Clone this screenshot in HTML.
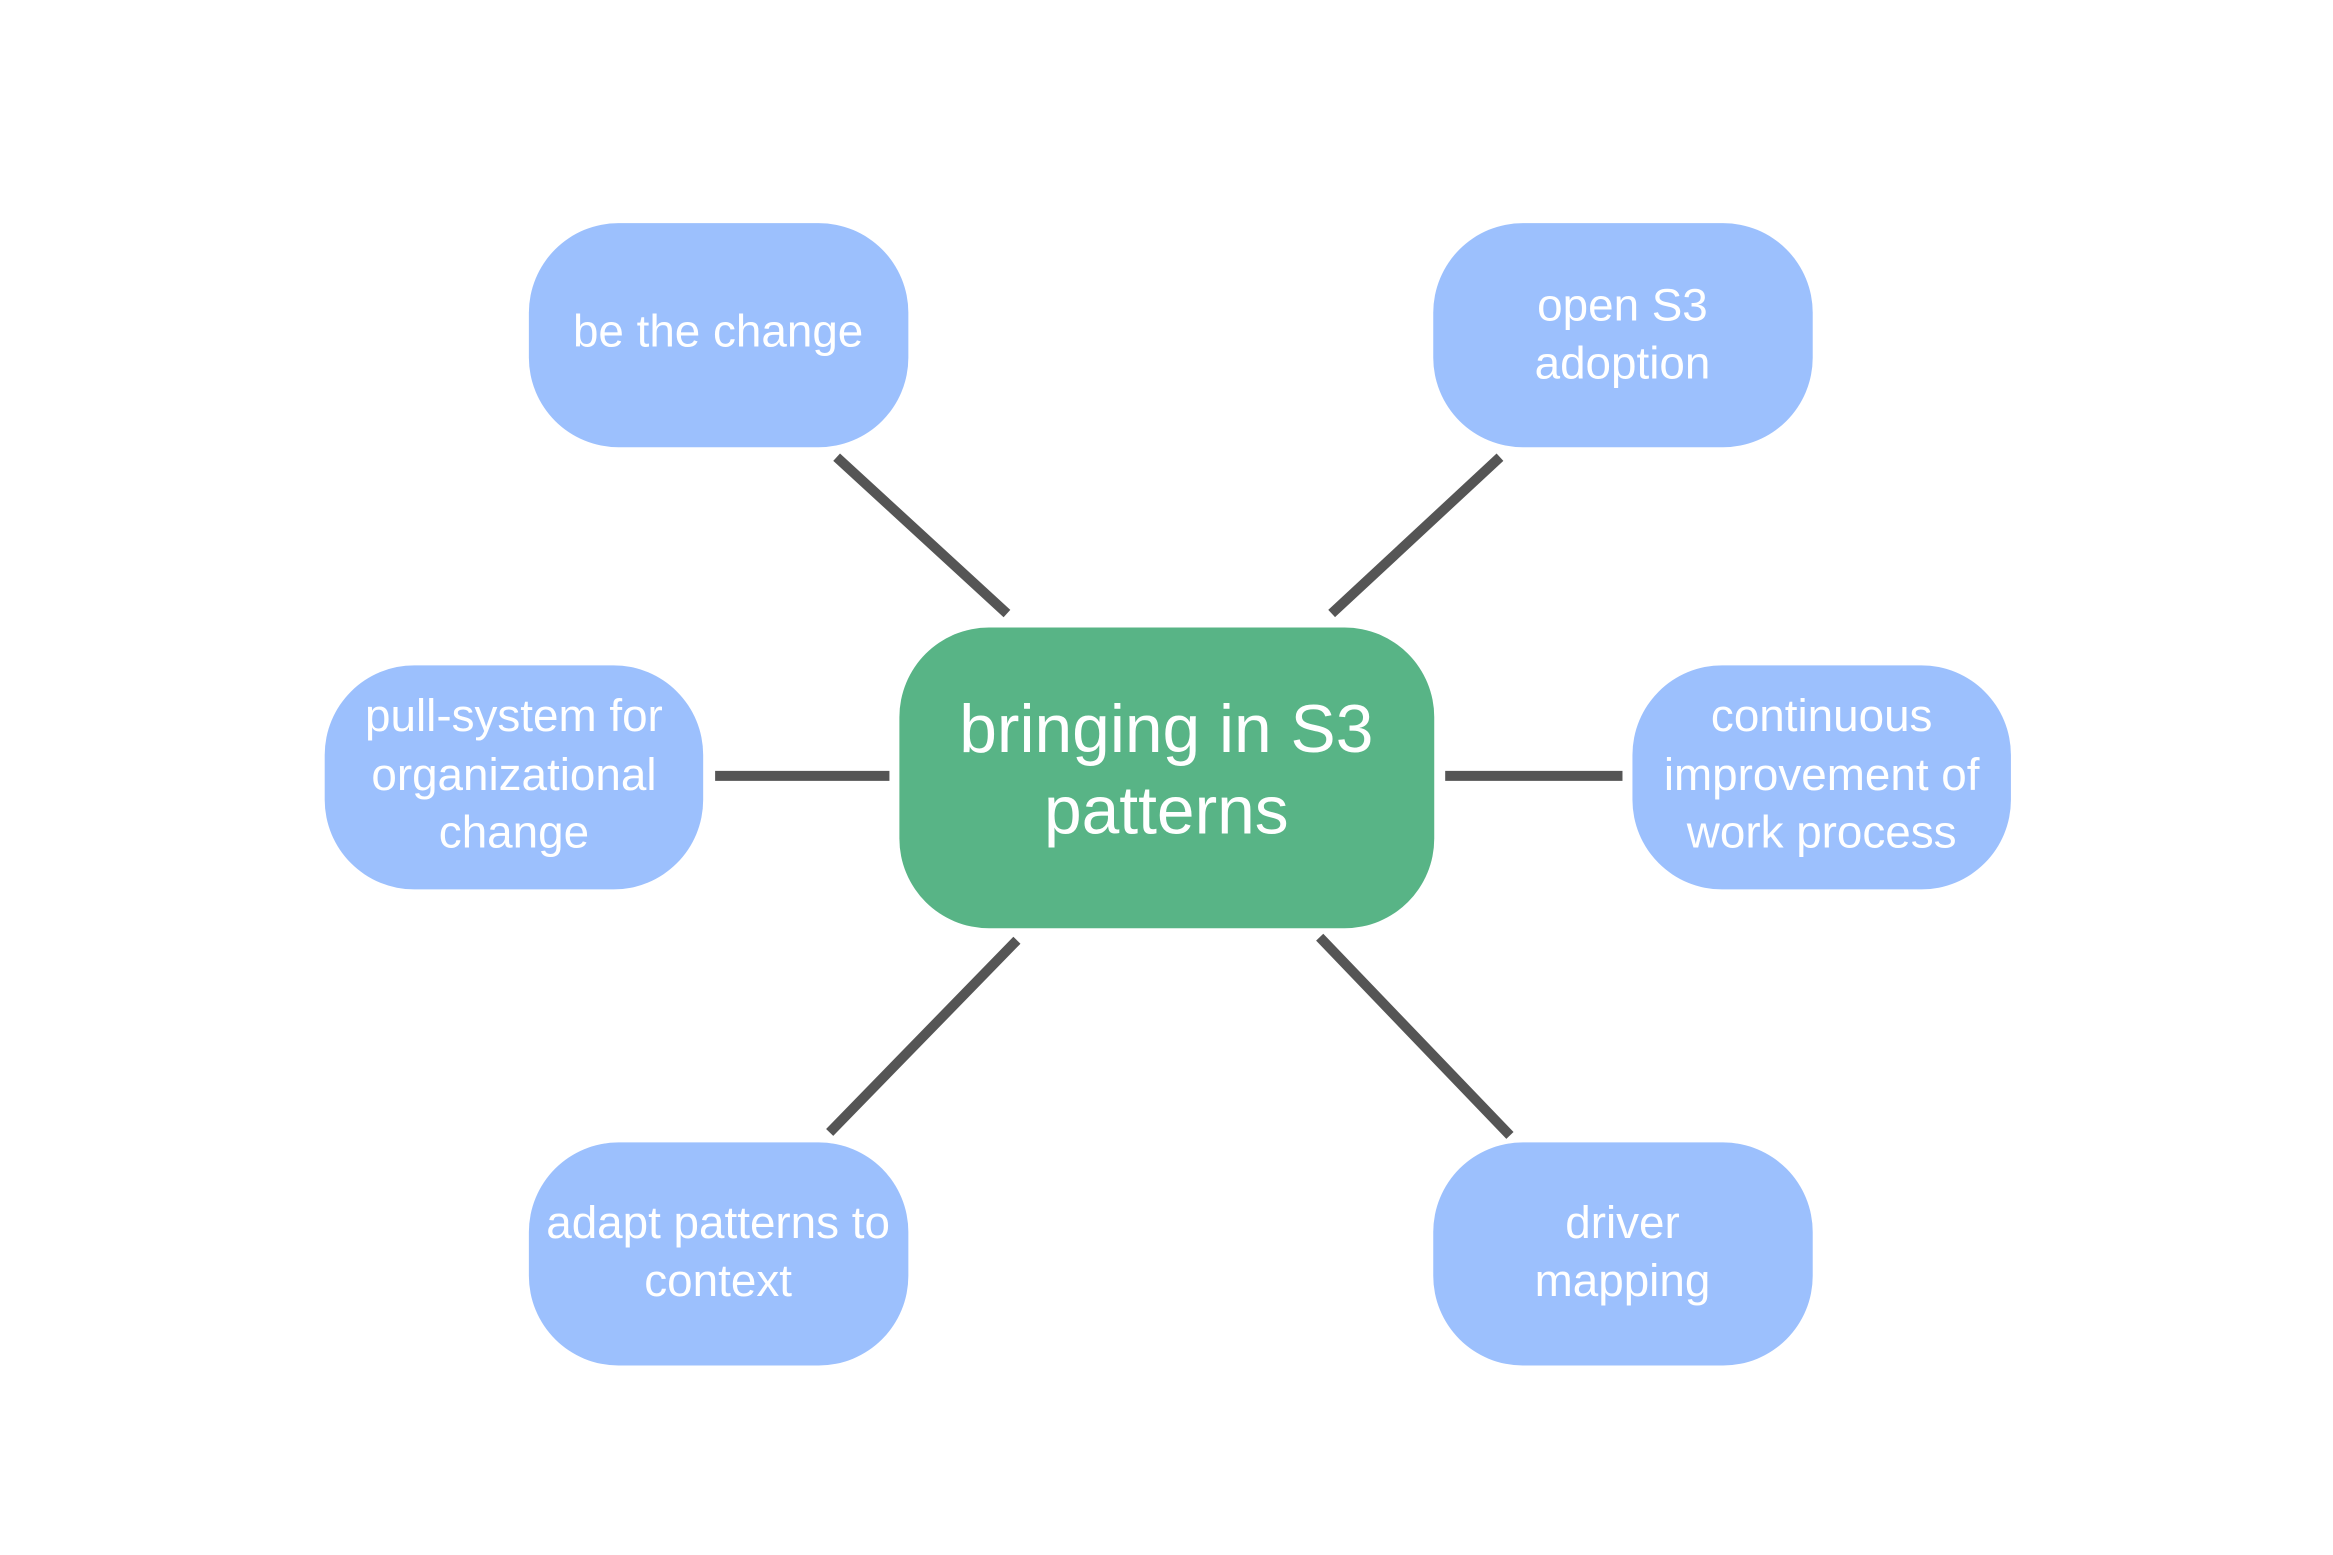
<!DOCTYPE html>
<html><head><meta charset="utf-8"><style>
html,body{margin:0;padding:0;background:#fff}
svg{display:block}
text{font-family:"Liberation Sans",sans-serif;fill:#fff;text-anchor:middle}
.b{font-size:46px}
.c{font-size:68px}
</style></head><body>
<svg width="2333" height="1555" viewBox="0 0 2333 1555" xmlns="http://www.w3.org/2000/svg">
<g transform="scale(0.996)">
<g stroke="#555" stroke-width="10" fill="none">
<line x1="840" y1="459" x2="1011" y2="616"/>
<line x1="1506" y1="459" x2="1337" y2="616"/>
<line x1="718" y1="779" x2="893" y2="779"/>
<line x1="1451" y1="779" x2="1629" y2="779"/>
<line x1="1021" y1="944" x2="833" y2="1137"/>
<line x1="1325" y1="941" x2="1516" y2="1140"/>
</g>
<g fill="#9cc0fd">
<rect x="531" y="224" width="381" height="225" rx="90"/>
<rect x="1439" y="224" width="381" height="225" rx="90"/>
<rect x="326" y="668" width="380" height="225" rx="90"/>
<rect x="1639" y="668" width="380" height="225" rx="90"/>
<rect x="531" y="1147" width="381" height="224" rx="90"/>
<rect x="1439" y="1147" width="381" height="224" rx="90"/>
</g>
<rect x="903" y="630" width="537" height="302" rx="90" fill="#58b486"/>
<text class="b" x="721" y="348">be the change</text>
<text class="b" x="1629" y="322">open S3</text>
<text class="b" x="1629" y="380">adoption</text>
<text class="b" x="516" y="734">pull-system for</text>
<text class="b" x="516" y="793">organizational</text>
<text class="b" x="516" y="851">change</text>
<text class="b" x="1829" y="734">continuous</text>
<text class="b" x="1829" y="793">improvement of</text>
<text class="b" x="1829" y="851">work process</text>
<text class="b" x="721" y="1243">adapt patterns to</text>
<text class="b" x="721" y="1301">context</text>
<text class="b" x="1629" y="1243">driver</text>
<text class="b" x="1629" y="1301">mapping</text>
<text class="c" x="1171" y="755">bringing in S3</text>
<text class="c" x="1171" y="837">patterns</text>
</g>
</svg>
</body></html>
